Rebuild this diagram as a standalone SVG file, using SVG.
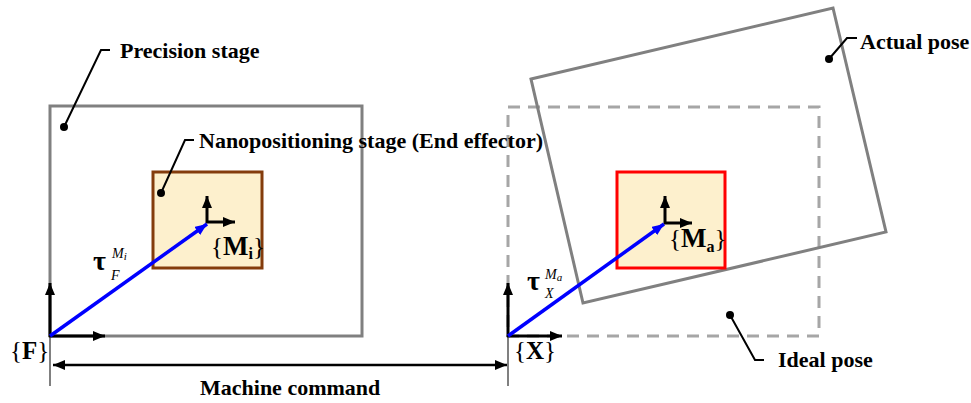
<svg xmlns="http://www.w3.org/2000/svg" width="971" height="403" viewBox="0 0 971 403">
<style>
.lbl{font-family:"Liberation Serif","Times New Roman",serif;font-weight:bold;font-size:22px;fill:#000}
.sym{font-family:"Liberation Serif","Times New Roman",serif;font-size:25px;fill:#000}
.b{font-weight:bold}
.bm{font-weight:bold;font-size:27px}
.sb{font-weight:bold;font-size:16px}
.tau{font-family:"Liberation Serif","Times New Roman",serif;font-weight:bold;font-size:28px;fill:#000}
.it{font-family:"Liberation Serif","Times New Roman",serif;font-style:italic;font-size:14px;fill:#000}
.its{font-size:11px}
.stage{fill:none;stroke:#808080;stroke-width:3}
.ideal{fill:none;stroke:#a6a6a6;stroke-width:3;stroke-dasharray:12 8}
.ax{stroke:#000;stroke-width:3;fill:none;marker-end:url(#ah)}
.vec{stroke:#0000ff;stroke-width:3.5;fill:none;marker-end:url(#bh)}
.ld{stroke:#000;stroke-width:2;fill:none}
.thin{stroke:#808080;stroke-width:2}
</style>
<defs>
<marker id="ah" markerUnits="userSpaceOnUse" markerWidth="12" markerHeight="10" refX="12" refY="5" orient="auto"><path d="M0,0 L12,5 L0,10 z" fill="#000"/></marker>
<marker id="ahs" markerUnits="userSpaceOnUse" markerWidth="12" markerHeight="10" refX="0" refY="5" orient="auto"><path d="M12,0 L0,5 L12,10 z" fill="#000"/></marker>
<marker id="bh" markerUnits="userSpaceOnUse" markerWidth="12" markerHeight="10" refX="12" refY="5" orient="auto"><path d="M0,0 L12,5 L0,10 z" fill="#0000ff"/></marker>
</defs>

<g id="precision-stage">
<rect class="stage" x="50" y="106" width="312" height="230"/>
</g>
<g id="nano-stage">
<rect x="153" y="172" width="109" height="96" fill="#fdf0cd" stroke="#843c0c" stroke-width="3"/>
</g>
<g id="ideal-pose">
<rect class="ideal" x="508" y="107" width="311" height="229"/>
</g>
<g id="actual-pose">
<polygon class="stage" points="531,79 833,8 886,232 583,303"/>
</g>
<g id="actual-effector">
<rect x="617" y="172" width="108" height="96" fill="#fdf0cd" stroke="#ff0000" stroke-width="3"/>
</g>

<g id="connectors">
<line class="thin" x1="50" y1="336" x2="50" y2="386"/>
<line class="thin" x1="508" y1="336" x2="508" y2="386"/>
<line x1="53" y1="365" x2="507" y2="365" stroke="#000" stroke-width="2.5" marker-start="url(#ahs)" marker-end="url(#ah)"/>
<line class="ax" x1="50" y1="337" x2="50" y2="283"/>
<line class="ax" x1="49" y1="336" x2="105" y2="336"/>
<line class="ax" x1="508" y1="337" x2="508" y2="283"/>
<line class="ax" x1="507" y1="336" x2="562" y2="336"/>
<line class="ax" x1="207" y1="223" x2="207" y2="196"/>
<line class="ax" x1="206" y1="222" x2="235" y2="222"/>
<line class="ax" x1="665" y1="224" x2="665" y2="196"/>
<line class="ax" x1="664" y1="223" x2="692" y2="223"/>
<line class="vec" x1="50" y1="336" x2="207" y2="224"/>
<line class="vec" x1="508" y1="336" x2="664" y2="224"/>
<polyline class="ld" points="64,127 101,50 110,50"/>
<circle cx="64" cy="127" r="4"/>
<polyline class="ld" points="161,193 185,140 194,140"/>
<circle cx="161" cy="193" r="4"/>
<polyline class="ld" points="829,59 847,38 857,38"/>
<circle cx="829" cy="59" r="4"/>
<polyline class="ld" points="730,315 755,360 764,360"/>
<circle cx="730" cy="315" r="4"/>
</g>

<g id="labels">
<text class="lbl" x="120" y="58">Precision stage</text>
<text class="lbl" x="199" y="148">Nanopositioning stage (End effector)</text>
<text class="lbl" x="860" y="49">Actual pose</text>
<text class="lbl" x="778" y="367">Ideal pose</text>
<text class="lbl" x="200" y="395">Machine command</text>

<text class="sym" x="10" y="359">{<tspan class="b">F</tspan>}</text>
<text class="sym" x="514" y="359">{<tspan class="b">X</tspan>}</text>

<text class="sym" x="211" y="255">{<tspan class="bm">M</tspan><tspan class="sb" dy="4">i</tspan><tspan dy="-4">}</tspan></text>
<text class="sym" x="669" y="247">{<tspan class="bm">M</tspan><tspan class="sb" dy="5">a</tspan><tspan dy="-5">}</tspan></text>

<text class="tau" x="93" y="270">τ</text>
<text class="it" x="112" y="258">M<tspan class="its" dy="2">i</tspan></text>
<text class="it" x="111" y="280">F</text>

<text class="tau" x="527" y="290">τ</text>
<text class="it" x="545" y="279">M<tspan class="its" dy="2">a</tspan></text>
<text class="it" x="545" y="298">X</text>
</g>
</svg>
